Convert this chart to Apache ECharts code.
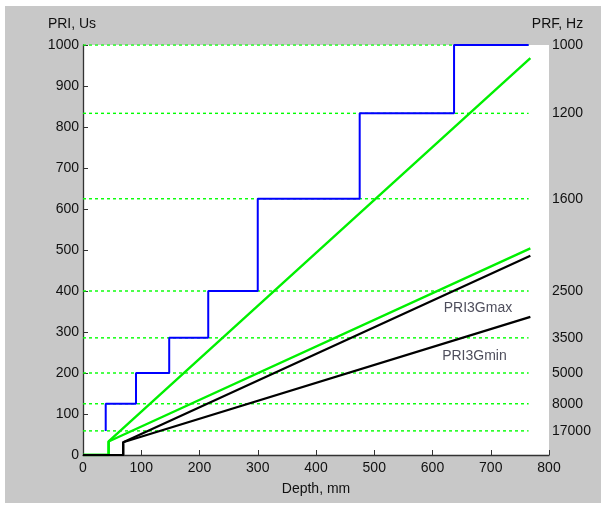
<!DOCTYPE html>
<html>
<head>
<meta charset="utf-8">
<script src="https://cdn.jsdelivr.net/npm/echarts@6/dist/echarts.min.js"></script>
<style>
html,body{margin:0;padding:0;background:#fff;width:601px;height:508px;overflow:hidden;}
#c{position:absolute;left:5px;top:6px;width:596px;height:497px;}
</style>
</head>
<body>
<div id="c"></div>
<script>
// PRF levels (Hz) shown on the right axis; PRI (us) = 1e6 / PRF
const prfLevels = [17000, 8000, 5000, 3500, 2500, 1600, 1200, 1000];
// depth (mm) at which the PRF step changes
const stepDepth = [39, 91, 148, 215, 300, 475, 637, 765];
const dashEnd = 765;
// green and black curves (depth mm, PRI us)
const greenSteep = [[0, 0], [44, 0], [44, 33], [768, 968]];
const greenLow   = [[0, 0], [44, 0], [44, 33], [768, 504]];
const pri3GmaxLine = [[0, 0], [69, 0], [69, 31], [768, 486]];
const pri3GminLine = [[0, 0], [69, 0], [69, 31], [768, 337]];
const curveLabels = [
  {name: 'PRI3Gmax', value: [678, 359]},
  {name: 'PRI3Gmin', value: [672, 240]}
];

const priLevels = prfLevels.map(f => 1e6 / f);
const stepLine = [[stepDepth[0], priLevels[0]]];
for (let i = 1; i < priLevels.length; i++) {
  stepLine.push([stepDepth[i - 1], priLevels[i]]);
  stepLine.push([stepDepth[i], priLevels[i]]);
}

const FONT = 'Liberation Sans, Arial, sans-serif';
const TXT = '#111';
const GREEN = '#00f000';

const dashSeries = priLevels.map(v => ({
  type: 'line', data: [[0, v], [dashEnd, v]], showSymbol: false, silent: true,
  lineStyle: {color: '#00ff00', width: 1.4, type: [3, 3]}
}));

const chart = echarts.init(document.getElementById('c'), null, {renderer: 'canvas'});
chart.setOption({
  animation: false,
  backgroundColor: '#c8c8c8',
  textStyle: {fontFamily: FONT},
  grid: {left: 78, top: 39, right: 52, bottom: 48, show: true, backgroundColor: '#fff', borderWidth: 0},
  xAxis: {
    type: 'value', min: 0, max: 800, interval: 100,
    name: 'Depth, mm', nameLocation: 'middle', nameGap: 27,
    nameTextStyle: {fontSize: 14, color: TXT, fontFamily: FONT},
    axisLine: {show: true, lineStyle: {color: '#333', width: 1.3}},
    axisTick: {show: true, inside: true, length: 5, lineStyle: {color: '#333'}},
    axisLabel: {fontSize: 14, color: TXT, margin: 6, fontFamily: FONT, formatter: v => String(v)},
    splitLine: {show: false}
  },
  yAxis: [{
    type: 'value', min: 0, max: 1000, interval: 100, position: 'left',
    name: 'PRI, Us', nameLocation: 'end', nameGap: 14,
    nameTextStyle: {fontSize: 14, color: TXT, fontFamily: FONT, padding: [0, 22, 0, 0]},
    axisLine: {show: true, lineStyle: {color: '#333', width: 1.3}},
    axisTick: {show: true, inside: true, length: 5, lineStyle: {color: '#333'}},
    axisLabel: {fontSize: 14, color: TXT, margin: 4, fontFamily: FONT, formatter: v => String(v)},
    splitLine: {show: false}
  }, {
    type: 'value', min: 0, max: 1000, position: 'right',
    name: 'PRF, Hz', nameLocation: 'end', nameGap: 14,
    nameTextStyle: {fontSize: 14, color: TXT, fontFamily: FONT, padding: [0, 0, 0, 17]},
    axisLine: {show: false},
    axisTick: {show: false},
    axisLabel: {
      fontSize: 14, color: TXT, margin: 3, fontFamily: FONT,
      customValues: priLevels,
      formatter: v => String(Math.round(1e6 / v))
    },
    splitLine: {show: false}
  }],
  series: dashSeries.concat([
    {type: 'line', data: stepLine, showSymbol: false, lineStyle: {color: '#0000ff', width: 2}},
    {type: 'line', data: greenSteep, showSymbol: false, lineStyle: {color: GREEN, width: 2.4}},
    {type: 'line', data: greenLow, showSymbol: false, lineStyle: {color: GREEN, width: 2.4}},
    {type: 'line', data: pri3GmaxLine, showSymbol: false, lineStyle: {color: '#000', width: 2.2}},
    {type: 'line', data: pri3GminLine, showSymbol: false, lineStyle: {color: '#000', width: 2.2}},
    {
      type: 'scatter', data: curveLabels, symbolSize: 1, itemStyle: {color: 'rgba(0,0,0,0)'},
      label: {show: true, position: 'inside', formatter: p => p.name, fontSize: 14, color: '#222233', fontFamily: FONT}
    }
  ])
});
</script>
</body>
</html>
